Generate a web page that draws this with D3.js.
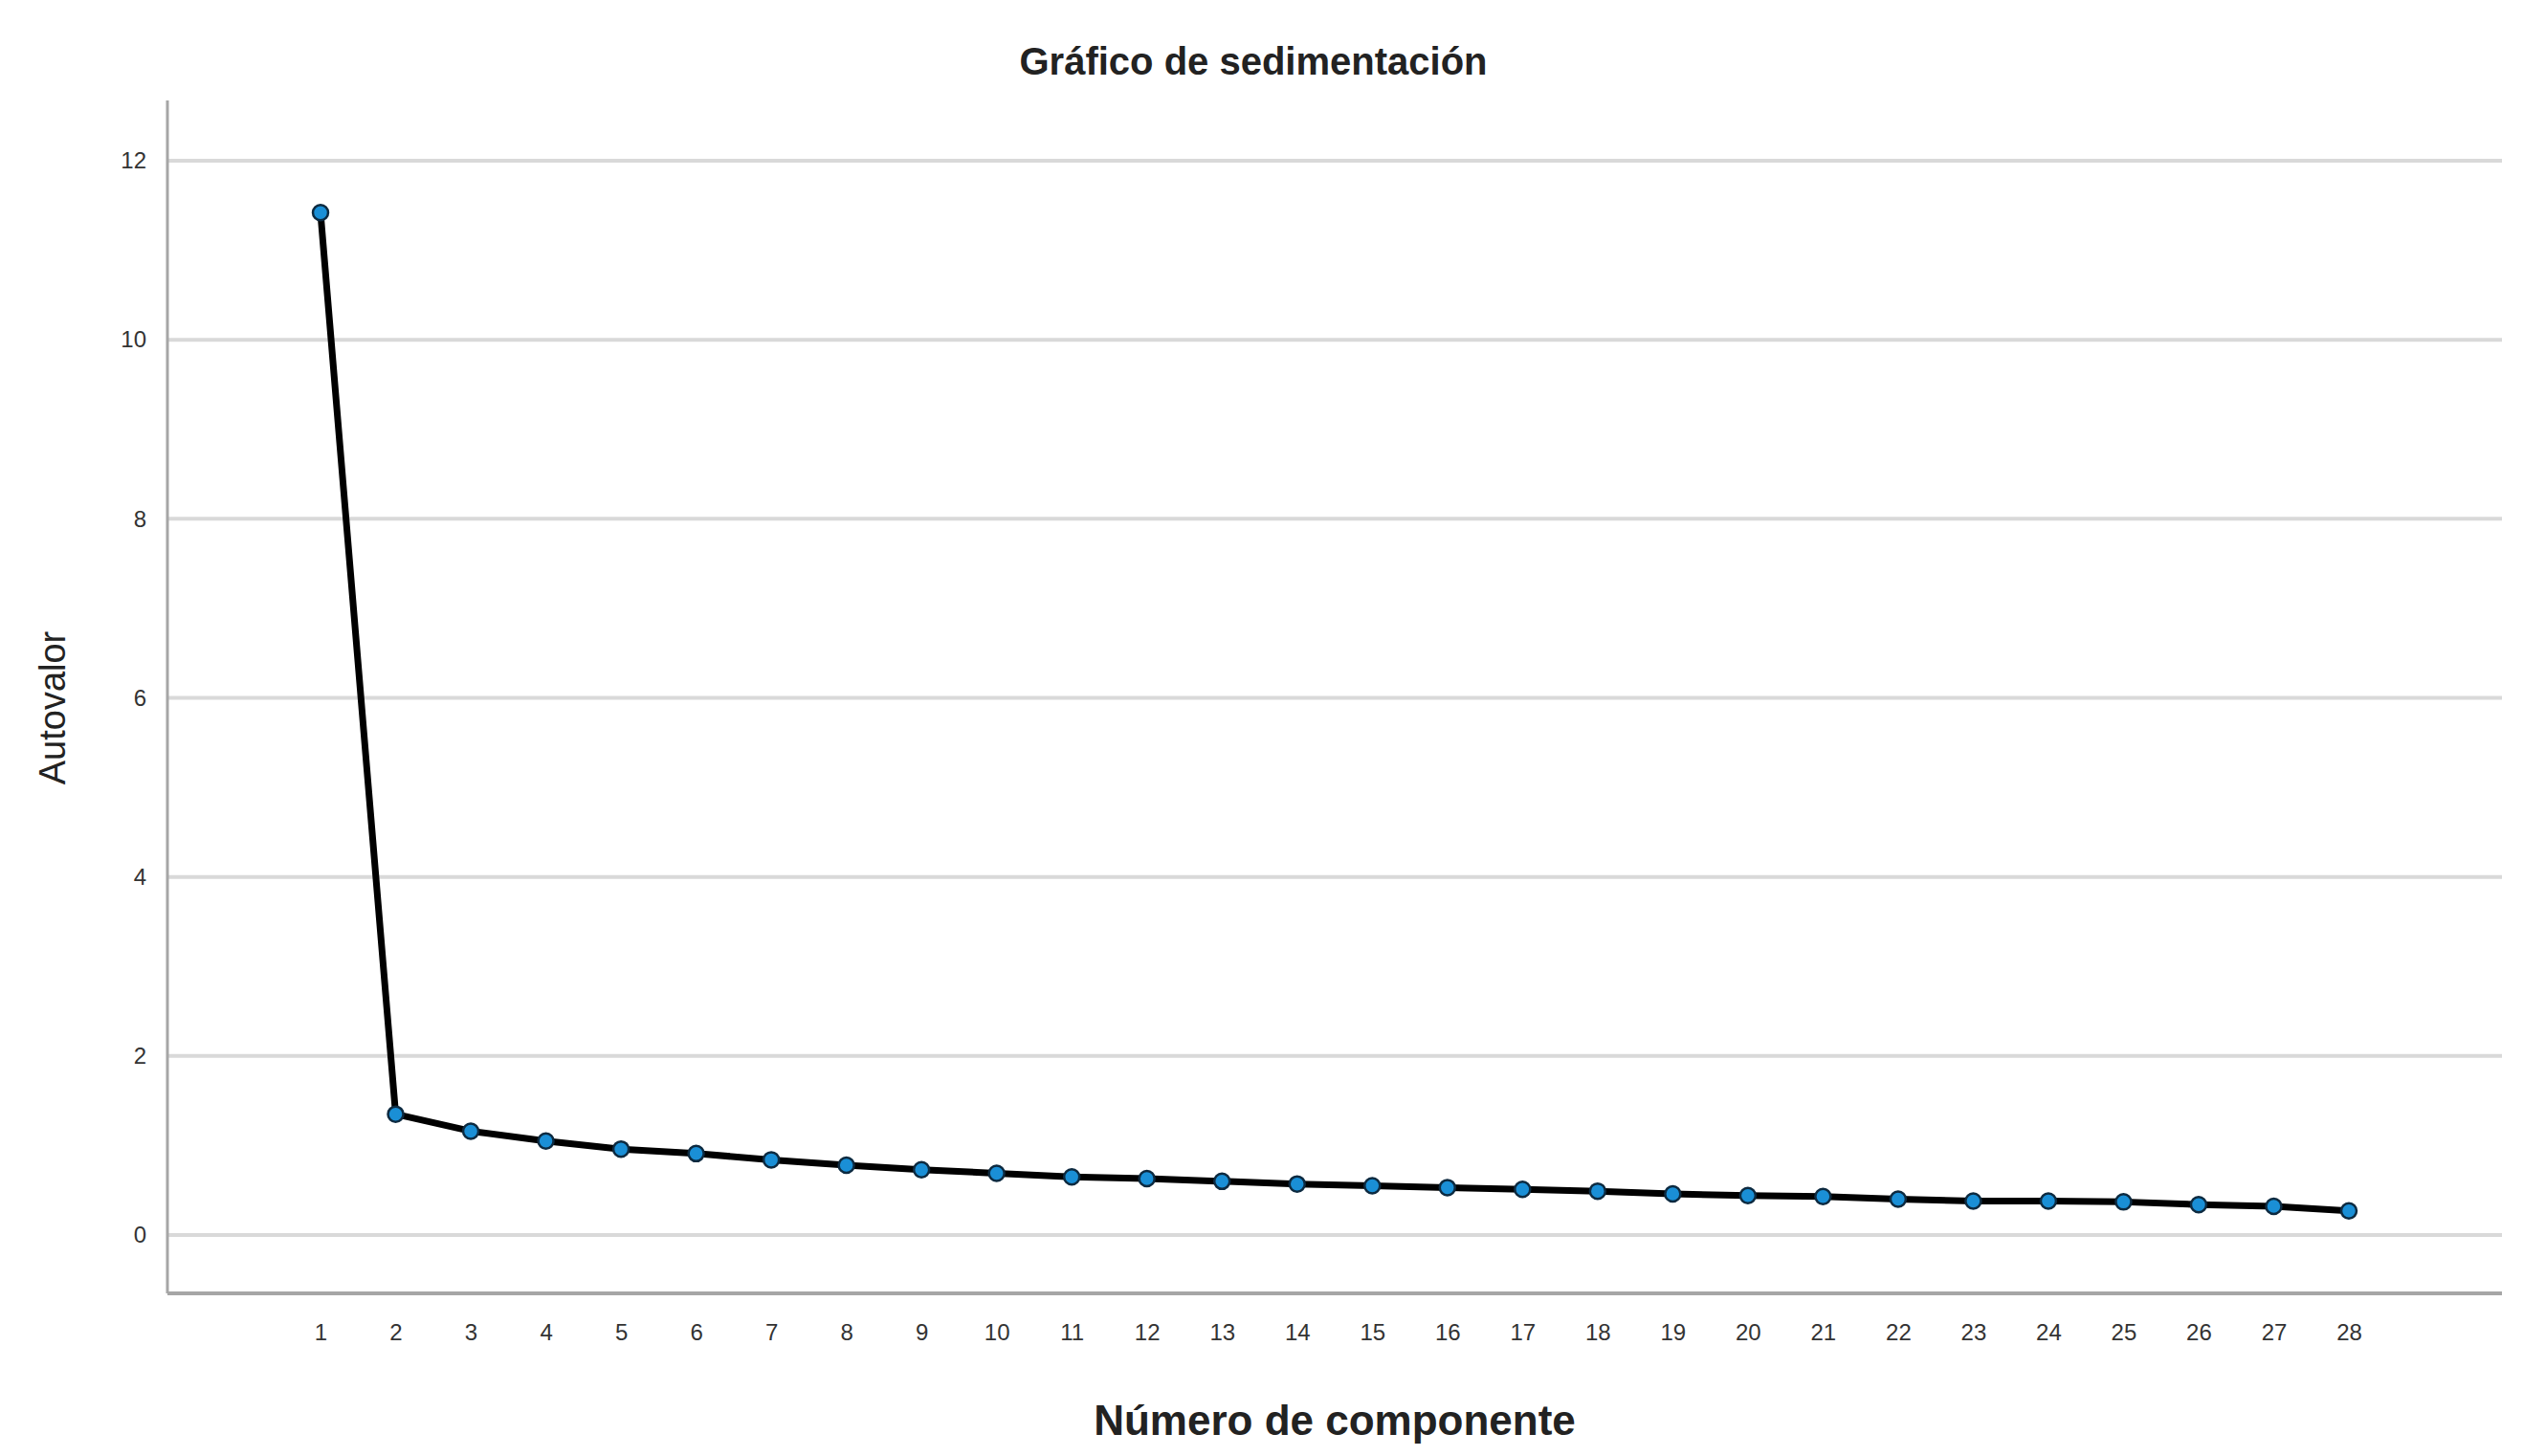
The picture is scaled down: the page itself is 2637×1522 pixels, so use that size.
<!DOCTYPE html>
<html><head><meta charset="utf-8">
<script src="https://cdn.jsdelivr.net/npm/d3@7"></script>
<style>body{margin:0;background:#fff}</style></head>
<body><svg id="c" width="2637" height="1522"></svg>
<script>
const components = d3.range(1, 29);
const eigenvalues = [11.42,1.35,1.16,1.05,0.96,0.91,0.84,0.78,0.73,0.69,0.65,0.63,0.60,0.57,0.55,0.53,0.51,0.49,0.46,0.44,0.43,0.40,0.38,0.38,0.37,0.34,0.32,0.27];
const yTicks = [0,2,4,6,8,10,12];

(function(){
const svg = d3.select("#c");
const font = "Liberation Sans, Arial, sans-serif";
const x = d3.scaleLinear().domain([1,28]).range([335,2455]);
const y = d3.scaleLinear().domain([0,12]).range([1291,168]);
const pL = 175, pR = 2615, pT = 105, pB = 1352;

svg.append("g").selectAll("line").data(yTicks).join("line")
  .attr("x1", pL).attr("x2", pR).attr("y1", d=>y(d)).attr("y2", d=>y(d))
  .attr("stroke", "#d9d9d9").attr("stroke-width", 4);

svg.append("line").attr("x1",pL).attr("x2",pL).attr("y1",pT).attr("y2",pB).attr("stroke","#a6a6a6").attr("stroke-width",3);
svg.append("line").attr("x1",pL).attr("x2",pR).attr("y1",pB).attr("y2",pB).attr("stroke","#a6a6a6").attr("stroke-width",4);

const yAxis = svg.append("g").attr("transform",`translate(${pL},0)`)
  .call(d3.axisLeft(y).tickValues(yTicks).tickSize(0).tickPadding(22));
yAxis.select(".domain").remove();
yAxis.selectAll("text").attr("font-family",font).attr("font-size",24).attr("fill","#333");

const xAxis = svg.append("g").attr("transform",`translate(0,${pB})`)
  .call(d3.axisBottom(x).tickValues(components).tickFormat(d3.format("d")).tickSize(0).tickPadding(32));
xAxis.select(".domain").remove();
xAxis.selectAll("text").attr("font-family",font).attr("font-size",24).attr("fill","#333");

const data = components.map((c,i)=>({c, v: eigenvalues[i]}));
svg.append("path").datum(data)
  .attr("d", d3.line().x(d=>x(d.c)).y(d=>y(d.v)))
  .attr("fill","none").attr("stroke","#000").attr("stroke-width",7).attr("stroke-linejoin","round");
svg.append("g").selectAll("circle").data(data).join("circle")
  .attr("cx", d=>x(d.c)).attr("cy", d=>y(d.v)).attr("r", 8)
  .attr("fill","#1a8fd6").attr("stroke","#0d2a40").attr("stroke-width",2.5);

svg.append("text").attr("x",1310).attr("y",78).attr("text-anchor","middle")
  .attr("font-family",font).attr("font-weight","bold").attr("font-size",40).attr("fill","#222").text("Gráfico de sedimentación");
svg.append("text").attr("x",1395).attr("y",1500).attr("text-anchor","middle")
  .attr("font-family",font).attr("font-weight","bold").attr("font-size",44).attr("fill","#222").text("Número de componente");
svg.append("text").attr("transform","translate(68,740) rotate(-90)").attr("text-anchor","middle")
  .attr("font-family",font).attr("font-size",38).attr("fill","#222").text("Autovalor");
})();
</script></body></html>
